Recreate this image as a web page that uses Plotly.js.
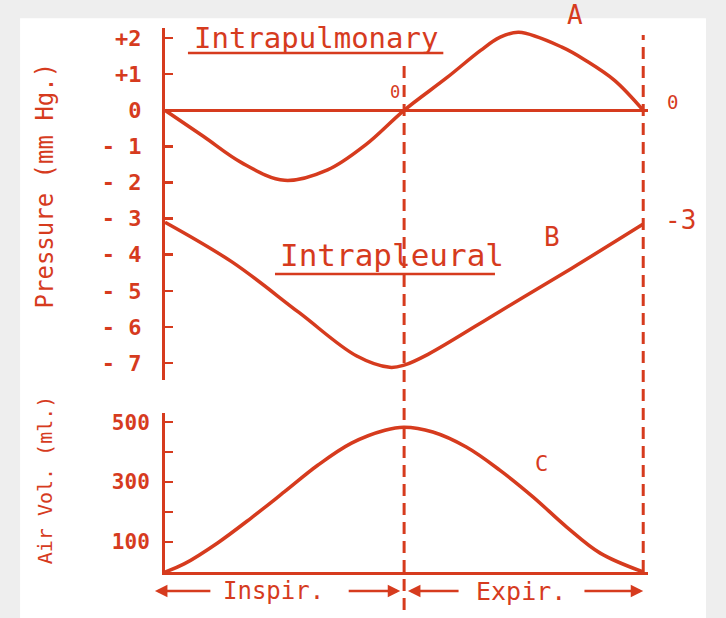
<!DOCTYPE html>
<html>
<head>
<meta charset="utf-8">
<script src="https://cdn.plot.ly/plotly-3.0.1.min.js"></script>
<style>
  html, body { margin: 0; padding: 0; background: #eeeeee; }
  #chart { width: 726px; height: 618px; }
</style>
</head>
<body>
<div id="chart"></div>
<script>
// time runs 0 -> 1 over one breath, 0.5 is end of inspiration
const timeA = [0, 0.08, 0.16, 0.25, 0.34, 0.42, 0.5, 0.59, 0.66, 0.7, 0.74, 0.83, 0.88, 0.94, 1.0];
const intrapulmonary = [0, -0.72, -1.45, -1.94, -1.65, -0.95, 0, 0.91, 1.66, 2.02, 2.16, 1.75, 1.38, 0.83, 0];

const timeB = [0, 0.14, 0.28, 0.4, 0.47, 0.5, 0.55, 0.7, 0.85, 1.0];
const intrapleural = [-3.1, -4.2, -5.6, -6.8, -7.12, -7.06, -6.76, -5.57, -4.38, -3.15];

const timeC = [0, 0.04, 0.11, 0.18, 0.25, 0.32, 0.39, 0.46, 0.5, 0.56, 0.63, 0.70, 0.77, 0.84, 0.91, 1.0];
const airVolume = [0, 27, 97, 180, 268, 357, 430, 473, 483, 467, 417, 340, 250, 150, 63, 0];

const pressureTicks = [2, 1, 0, -1, -2, -3, -4, -5, -6, -7];
const pressureLabels = ["+2", "+1", "0", "- 1", "- 2", "- 3", "- 4", "- 5", "- 6", "- 7"];
const volumeTicks = [100, 200, 300, 400, 500];
const volumeLabels = ["100", "", "300", "", "500"];

const RED = "#d63b1e";
const FONT = "DejaVu Sans Mono";

const lineStyle = { color: RED, width: 3.5, shape: "spline", smoothing: 1 };

const traces = [
  { x: timeA, y: intrapulmonary, xaxis: "x", yaxis: "y", mode: "lines", line: lineStyle, name: "Intrapulmonary" },
  { x: timeB, y: intrapleural, xaxis: "x", yaxis: "y", mode: "lines", line: lineStyle, name: "Intrapleural" },
  { x: timeC, y: airVolume, xaxis: "x", yaxis: "y2", mode: "lines", line: lineStyle, name: "Air volume" },
];

// x is given in time units (or paper when ref says so), y in paper units
function txt(text, x, y, size, extra) {
  return Object.assign({
    text: text, x: x, y: y, xref: "x", yref: "paper",
    xanchor: "center", yanchor: "middle",
    showarrow: false, font: { family: FONT, size: size, color: RED },
  }, extra || {});
}

function arrow(tip, tail, y) {
  return {
    text: "", x: tip, y: y, xref: "x", yref: "paper",
    ax: tail, ay: y, axref: "x", ayref: "paper",
    showarrow: true, arrowhead: 2, arrowsize: 1, arrowwidth: 2.5, arrowcolor: RED,
  };
}

const layout = {
  width: 726,
  height: 618,
  margin: { l: 165, r: 78, t: 28, b: 46 },
  paper_bgcolor: "#eeeeee",
  plot_bgcolor: "white",
  showlegend: false,
  font: { family: FONT, color: RED },
  xaxis: {
    anchor: "y2",
    range: [0, 1.01],
    showline: true, linecolor: RED, linewidth: 3,
    showgrid: false, zeroline: false, showticklabels: false, ticks: "",
  },
  yaxis: {
    domain: [0.353, 1],
    range: [-7.47, 2.28],
    tickvals: pressureTicks, ticktext: pressureLabels,
    ticks: "inside", ticklen: 8, tickwidth: 2.5, tickcolor: RED,
    ticklabelstandoff: 16,
    tickfont: { family: FONT, size: 22, color: RED, weight: "bold" },
    showline: true, linecolor: RED, linewidth: 3,
    showgrid: false,
    zeroline: true, zerolinecolor: RED, zerolinewidth: 2.5,
  },
  yaxis2: {
    domain: [0, 0.292],
    range: [0, 530],
    tickvals: volumeTicks, ticktext: volumeLabels,
    ticks: "inside", ticklen: 8, tickwidth: 2.5, tickcolor: RED,
    ticklabelstandoff: 8,
    tickfont: { family: FONT, size: 21, color: RED, weight: "bold" },
    showline: true, linecolor: RED, linewidth: 3,
    showgrid: false, zeroline: false,
  },
  shapes: [
    // sheet of paper
    { type: "rect", xref: "paper", yref: "paper", x0: -0.3, x1: 1.12, y0: -0.09, y1: 1.018,
      fillcolor: "white", line: { width: 0 }, layer: "below" },
    // end of inspiration / end of expiration
    { type: "line", xref: "x", yref: "paper", x0: 0.5, x1: 0.5, y0: -0.07, y1: 0.941,
      line: { color: RED, width: 3, dash: "12px,7px" } },
    { type: "line", xref: "x", yref: "paper", x0: 1, x1: 1, y0: 0, y1: 0.987,
      line: { color: RED, width: 3, dash: "12px,7px" } },
    // underlines
    { type: "line", xref: "x", yref: "paper", x0: 0.048, x1: 0.582, y0: 0.954, y1: 0.954,
      line: { color: RED, width: 2.5 } },
    { type: "line", xref: "x", yref: "paper", x0: 0.230, x1: 0.690, y0: 0.548, y1: 0.548,
      line: { color: RED, width: 2.5 } },
  ],
  annotations: [
    txt("Intrapulmonary", 0.316, 0.982, 29),
    txt("Intrapleural", 0.475, 0.583, 31),
    txt("A", 0.858, 1.024, 26),
    txt("B", 0.81, 0.616, 26),
    txt("C", 0.787, 0.2, 22),
    txt("0", 0.481, 0.882, 17),
    txt("0", 1.05, 0.864, 19, { xref: "paper" }),
    txt("-3", 1.067, 0.647, 26, { xref: "paper" }),
    txt("Pressure (mm Hg.)", -0.248, 0.711, 24, { xref: "paper", textangle: -90 }),
    txt("Air Vol. (ml.)", -0.248, 0.169, 20, { xref: "paper", textangle: -90 }),
    txt("Inspir.", 0.226, -0.035, 24),
    txt("Expir.", 0.745, -0.035, 25),
    arrow(-0.021, 0.098, -0.035),
    arrow(0.492, 0.381, -0.035),
    arrow(0.508, 0.617, -0.035),
    arrow(1.0, 0.874, -0.035),
  ],
};

Plotly.newPlot("chart", traces, layout, { displayModeBar: false, staticPlot: true });
</script>
</body>
</html>
